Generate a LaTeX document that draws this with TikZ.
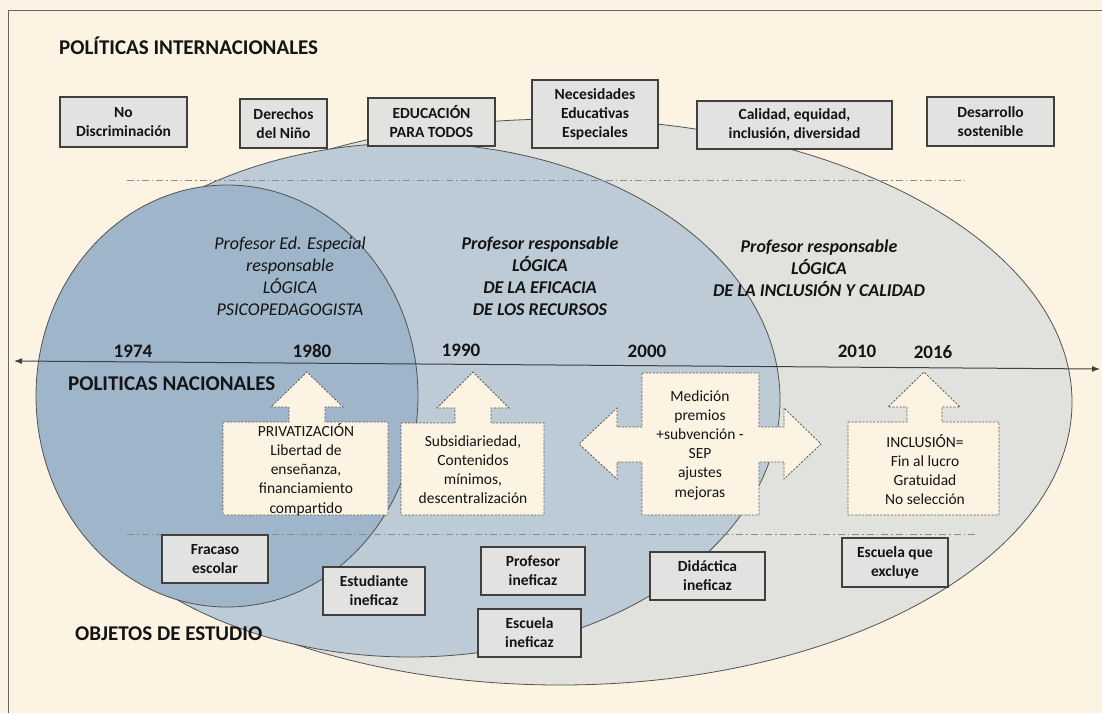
\documentclass[tikz,border=0pt]{standalone}
\usepackage{fontspec}
\setmainfont{Carlito}
\usetikzlibrary{arrows.meta}
\definecolor{bgc}{HTML}{FDF3E3}
\definecolor{circc}{HTML}{9FB5CA}
\definecolor{bluec}{HTML}{BCCBD6}
\definecolor{grayc}{HTML}{E1E1DD}
\definecolor{boxc}{HTML}{E2E2E1}
\definecolor{linec}{HTML}{404040}
\definecolor{dashc}{HTML}{8C8C8C}
\definecolor{txtc}{HTML}{141414}
\tikzset{
  frame/.style={draw=linec!80, line width=0.9pt},
  ellline/.style={draw=linec!90, line width=0.8pt},
  sepline/.style={draw=dashc, line width=1pt, dash pattern=on 7pt off 3pt on 1.5pt off 3pt},
  axisline/.style={draw=linec, line width=1pt, {Latex[length=8pt,width=6pt]}-{Latex[length=8pt,width=6pt]}},
  gbox/.style={draw=linec, line width=1.1pt, fill=boxc, text=txtc, align=center, inner sep=0pt,
    font=\fontsize{15.5}{19}\selectfont\bfseries},
  callout/.style={draw=linec!85, fill=bgc, line width=0.8pt, dash pattern=on 2.2pt off 1.4pt},
  calltext/.style={text=txtc, align=center, inner sep=0pt, font=\fontsize{15.5}{19.2}\selectfont},
  head/.style={text=txtc, inner sep=0pt, font=\fontsize{21}{25}\selectfont\bfseries},
  year/.style={text=txtc, inner sep=0pt, font=\fontsize{19}{23}\selectfont\bfseries},
  logic/.style={text=txtc, align=center, inner sep=0pt, font=\fontsize{18}{22}\selectfont\itshape},
  logicb/.style={text=txtc, align=center, inner sep=0pt, font=\fontsize{18}{22}\selectfont\bfseries\itshape},
}
\begin{document}
\begin{tikzpicture}[x=1pt,y=-1pt]
\useasboundingbox (0,0) rectangle (1102,713);
\fill[bgc] (0,0) rectangle (1102,713);
% frame
\coordinate (fa) at (8,713);
\coordinate (fb) at (8,10);
\coordinate (fc) at (1102,10);
\draw[frame] (fa) -- (fb) -- (fc);
% ellipses
\coordinate (eg) at (560,402);
\coordinate (eb) at (410,400);
\coordinate (ec) at (227,396);
\filldraw[fill=grayc, ellline] (eg) ellipse [x radius=512pt, y radius=283pt];
\filldraw[fill=bluec, ellline] (eb) ellipse [x radius=370pt, y radius=257pt];
\filldraw[fill=circc, ellline] (ec) ellipse [x radius=191pt, y radius=211pt];
% separator lines
\coordinate (s1a) at (127,180);
\coordinate (s1b) at (965,180);
\coordinate (s2a) at (127,534);
\coordinate (s2b) at (975,534);
\draw[sepline] (s1a) -- (s1b);
\draw[sepline] (s2a) -- (s2b);
% time axis
\coordinate (axL) at (14,361);
\coordinate (axR) at (1100,369);
\draw[axisline] (axL) -- (axR);
% headings
\node[head, anchor=base west] (hint) at (59,54) {POLÍTICAS INTERNACIONALES};
\node[head, anchor=base west] (hnac) at (68,390) {POLITICAS NACIONALES};
\node[head, anchor=base west] (hobj) at (75,640) {OBJETOS DE ESTUDIO};
% years
\node[year] (y74) at (133,351) {1974};
\node[year] (y80) at (312,351) {1980};
\node[year] (y90) at (461,350) {1990};
\node[year] (y00) at (647,351) {2000};
\node[year] (y10) at (857,351) {2010};
\node[year] (y16) at (933,352) {2016};
% logic texts
\node[logic] (l1) at (290,276) {Profesor Ed. Especial\\responsable\\LÓGICA\\PSICOPEDAGOGISTA};
\node[logicb] (l2) at (540,276) {Profesor responsable\\LÓGICA\\DE LA EFICACIA\\DE LOS RECURSOS};
\node[logicb] (l3) at (819,268) {Profesor responsable\\LÓGICA\\DE LA INCLUSIÓN Y CALIDAD};
% top boxes
\node[gbox, minimum width=127pt, minimum height=50pt] (b1) at (123.5,122) {No\\Discriminación};
\node[gbox, minimum width=87pt, minimum height=49pt] (b2) at (283.5,123.5) {Derechos\\del Niño};
\node[gbox, minimum width=127pt, minimum height=48pt] (b3) at (431.5,122) {EDUCACIÓN\\PARA TODOS};
\node[gbox, minimum width=126pt, minimum height=68pt] (b4) at (595,114) {Necesidades\\Educativas\\Especiales};
\node[gbox, minimum width=195pt, minimum height=48pt] (b5) at (794.5,125) {Calidad, equidad,\\inclusión, diversidad};
\node[gbox, minimum width=127pt, minimum height=49pt] (b6) at (990.5,121.5) {Desarrollo\\sostenible};
% callouts
\draw[callout] (223,422) -- (289,422) -- (289,407) -- (271,407) -- (307,372) -- (343,407) -- (325,407) -- (325,422) -- (388,422) -- (388,515) -- (223,515) -- cycle;
\draw[callout] (401,423) -- (455,423) -- (455,408) -- (437,408) -- (473,372) -- (509,408) -- (491,408) -- (491,423) -- (544,423) -- (544,515) -- (401,515) -- cycle;
\draw[callout] (642,373) -- (759,373) -- (759,427) -- (784,427) -- (784,408) -- (821,444) -- (784,479) -- (784,462) -- (759,462) -- (759,515) -- (642,515) -- (642,462) -- (617,462) -- (617,479) -- (579,444) -- (617,408) -- (617,427) -- (642,427) -- cycle;
\draw[callout] (848,422) -- (907,422) -- (907,407) -- (888,407) -- (924,372) -- (960,407) -- (942,407) -- (942,422) -- (999,422) -- (999,515) -- (848,515) -- cycle;
\node[calltext] (c1) at (306,469.5) {PRIVATIZACIÓN\\Libertad de\\enseñanza,\\financiamiento\\compartido};
\node[calltext] (c2) at (473,469.5) {Subsidiariedad,\\Contenidos\\mínimos,\\descentralización};
\node[calltext] (c3) at (700,445) {Medición\\premios\\+subvención -\\SEP\\ajustes\\mejoras};
\node[calltext] (c4) at (925,469.5) {INCLUSIÓN=\\Fin al lucro\\Gratuidad\\No selección};
% bottom boxes
\node[gbox, minimum width=106pt, minimum height=48pt] (o1) at (215,559) {Fracaso\\escolar};
\node[gbox, minimum width=102pt, minimum height=48pt] (o2) at (374,591) {Estudiante\\ineficaz};
\node[gbox, minimum width=104pt, minimum height=48pt] (o3) at (533,571) {Profesor\\ineficaz};
\node[gbox, minimum width=103pt, minimum height=48pt] (o4) at (529.5,633) {Escuela\\ineficaz};
\node[gbox, minimum width=115pt, minimum height=48pt] (o5) at (707.5,576) {Didáctica\\ineficaz};
\node[gbox, minimum width=106pt, minimum height=49pt] (o6) at (895,562.5) {Escuela que\\excluye};
\end{tikzpicture}
\end{document}
